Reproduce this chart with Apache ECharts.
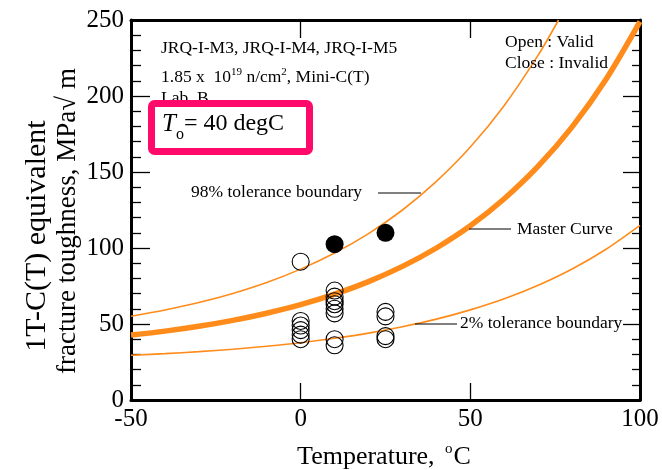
<!DOCTYPE html>
<html>
<head>
<meta charset="utf-8">
<script src="https://cdn.jsdelivr.net/npm/echarts@6/dist/echarts.min.js"></script>
<style>
html,body{margin:0;padding:0;background:#fff;}
#chart{width:662px;height:470px;}
</style>
</head>
<body>
<div id="chart"></div>
<script>
// ---- data ----
const curveTemps   = [-50,-40,-30,-20,-10,0,10,20,30,40,50,60,70,80,90,100];
const masterCurve  = [42.7,45.3,48.5,52.4,57.1,62.7,69.6,77.9,87.9,100,114.6,132.4,153.8,179.7,211.0,248.9];
const tol2Curve    = [29.4,30.5,31.8,33.4,35.4,37.7,40.6,44.0,48.2,53.2,59.3,66.6,75.5,86.2,99.2,114.9];
const tol98Temps   = [-50,-40,-30,-20,-10,0,10,20,30,40,50,60,70,76];
const tol98Curve   = [55.1,59.2,64.1,70.1,77.3,86.1,96.7,109.5,125.0,143.8,166.4,193.8,226.9,250];

const validTemps   = [0,0,0,0,0,0, 10,10,10,10,10,10,10,10, 25,25,25,25];
const validK       = [91,52,49,46,43,40, 72,68,65,63,60,57,40,36, 58,55,42,40];
const invalidTemps = [10,25];
const invalidK     = [102.5,110];

const xTicks = [-50,0,50,100];
const yTicks = [0,50,100,150,200,250];

const zip = (a,b) => a.map((v,i)=>[v,b[i]]);
const SERIF = '"Liberation Serif", "Times New Roman", serif';
const ORANGE = '#ff8c1a';

const chart = echarts.init(document.getElementById('chart'), null, {renderer:'canvas'});

const baseAxis = {
  type:'value', splitLine:{show:false},
  axisLine:{show:true, onZero:false, lineStyle:{color:'#000', width:3}},
};

const option = {
  backgroundColor:'#fff',
  animation:false,
  grid:{left:131, right:22, top:20, bottom:70, containLabel:false},
  xAxis:[
    Object.assign({}, baseAxis, {
      position:'bottom', min:xTicks[0], max:xTicks[xTicks.length-1], interval:50,
      axisTick:{show:true, inside:true, length:17, lineStyle:{color:'#000', width:1.3}},
      axisLabel:{show:true, color:'#000', fontFamily:SERIF, fontSize:25, margin:7}
    }),
    Object.assign({}, baseAxis, {
      position:'top', min:xTicks[0], max:xTicks[xTicks.length-1], interval:50,
      axisTick:{show:true, inside:true, length:18, lineStyle:{color:'#000', width:1.3}},
      axisLabel:{show:false}
    })
  ],
  yAxis:[
    Object.assign({}, baseAxis, {
      position:'left', min:yTicks[0], max:yTicks[yTicks.length-1], interval:50,
      axisTick:{show:true, inside:true, length:19, lineStyle:{color:'#000', width:1.3}},
      minorTick:{show:true, splitNumber:5, length:10, lineStyle:{color:'#000', width:1.3}},
      axisLabel:{show:true, color:'#000', fontFamily:SERIF, fontSize:25, margin:7}
    }),
    Object.assign({}, baseAxis, {
      position:'right', min:yTicks[0], max:yTicks[yTicks.length-1], interval:50,
      axisTick:{show:true, inside:true, length:17, lineStyle:{color:'#000', width:1.3}},
      minorTick:{show:true, splitNumber:5, length:8, lineStyle:{color:'#000', width:1.3}},
      axisLabel:{show:false}
    })
  ],
  series:[
    {type:'line', name:'2%', data:zip(curveTemps, tol2Curve), showSymbol:false, smooth:0.3,
     lineStyle:{color:ORANGE, width:1.6}, clip:true, z:2},
    {type:'line', name:'98%', data:zip(tol98Temps, tol98Curve), showSymbol:false, smooth:0.3,
     lineStyle:{color:ORANGE, width:1.6}, clip:true, z:2},
    {type:'line', name:'Master', data:zip(curveTemps, masterCurve), showSymbol:false, smooth:0.3,
     lineStyle:{color:ORANGE, width:5.5}, clip:true, z:2},
    {type:'scatter', name:'Valid', data:zip(validTemps, validK), symbol:'circle', symbolSize:17,
     itemStyle:{color:'rgba(0,0,0,0)', borderColor:'#000', borderWidth:1.1, opacity:1}, z:5},
    {type:'scatter', name:'Invalid', data:zip(invalidTemps, invalidK), symbol:'circle', symbolSize:18,
     itemStyle:{color:'#000', borderColor:'#000', borderWidth:0, opacity:1}, z:5}
  ],
  graphic:[
    // y axis titles
    {type:'text', x:37, y:236, rotation:Math.PI/2, z:10,
     style:{text:'1T-C(T) equivalent', font:'30px '+SERIF, fill:'#000', align:'center', verticalAlign:'middle'}},
    {type:'text', x:68, y:221, rotation:Math.PI/2, z:10,
     style:{text:'fracture toughness, MPa\u221A m', font:'27px '+SERIF, fill:'#000', align:'center', verticalAlign:'middle'}},
    // x axis title
    {type:'text', x:384, y:457, z:10,
     style:{text:'Temperature, {sup|o}C', font:'26px '+SERIF, fill:'#000', align:'center', verticalAlign:'middle',
       rich:{sup:{fontSize:15, fontFamily:SERIF, padding:[0,1,16,4]}}}},
    // annotations
    {type:'text', x:161, y:48, z:10,
     style:{text:'JRQ-I-M3, JRQ-I-M4, JRQ-I-M5', font:'17.5px '+SERIF, fill:'#000', verticalAlign:'middle'}},
    {type:'text', x:161, y:77, z:10,
     style:{text:'1.85 x  10{sup|19} n/cm{sup|2}, Mini-C(T)', font:'17.5px '+SERIF, fill:'#000', verticalAlign:'middle',
       rich:{sup:{fontSize:11, fontFamily:SERIF, padding:[0,0,10,0]}}}},
    {type:'text', x:161, y:98, z:10,
     style:{text:'Lab. B', font:'17.5px '+SERIF, fill:'#000', verticalAlign:'middle'}},
    {type:'rect', z:11, shape:{x:151.5, y:103.5, width:158, height:48, r:3},
     style:{fill:'#fff', stroke:'#ff0a6a', lineWidth:7}},
    {type:'text', x:162, y:124, z:12,
     style:{text:'{it|T}{sub|o}= 40 degC', font:'24px '+SERIF, fill:'#000', verticalAlign:'middle',
       rich:{it:{fontStyle:'italic', fontSize:25, fontFamily:SERIF},
             sub:{fontSize:16, fontFamily:SERIF, padding:[22,0,0,0]}}}},
    {type:'text', x:505, y:42, z:10,
     style:{text:'Open : Valid', font:'17.5px '+SERIF, fill:'#000', verticalAlign:'middle'}},
    {type:'text', x:505, y:63, z:10,
     style:{text:'Close : Invalid', font:'17.5px '+SERIF, fill:'#000', verticalAlign:'middle'}},
    {type:'text', x:191, y:192, z:10,
     style:{text:'98% tolerance boundary', font:'17.5px '+SERIF, fill:'#000', verticalAlign:'middle'}},
    {type:'line', z:10, shape:{x1:378, y1:193, x2:421, y2:193}, style:{stroke:'#000', lineWidth:1}},
    {type:'text', x:517, y:229, z:10,
     style:{text:'Master Curve', font:'17.5px '+SERIF, fill:'#000', verticalAlign:'middle'}},
    {type:'line', z:10, shape:{x1:469, y1:229, x2:511, y2:229}, style:{stroke:'#000', lineWidth:1}},
    {type:'text', x:460, y:323, z:10,
     style:{text:'2% tolerance boundary', font:'17.5px '+SERIF, fill:'#000', verticalAlign:'middle'}},
    {type:'line', z:10, shape:{x1:415, y1:324, x2:457, y2:324}, style:{stroke:'#000', lineWidth:1}}
  ]
};
chart.setOption(option);
</script>
</body>
</html>
